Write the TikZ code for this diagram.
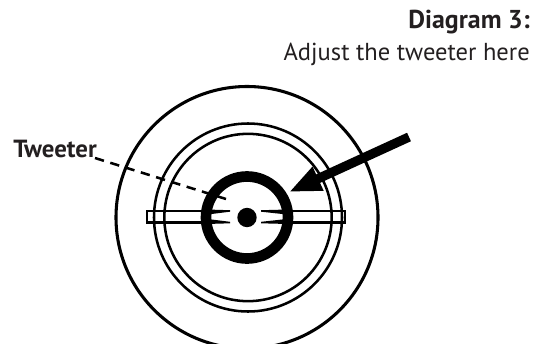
\documentclass[tikz,border=0pt]{standalone}
\usepackage{fontspec}
\setmainfont{PT Sans}
\usetikzlibrary{positioning, arrows.meta}
\definecolor{inkdark}{HTML}{231F20}

\begin{document}
\begin{tikzpicture}[
  x=0.75pt, y=-0.75pt,
  ring/.style={draw=black, line width=2.3pt},
  thinring/.style={draw=black, line width=1.9pt},
  barline/.style={draw=black, line width=1.7pt},
  notch/.style={fill=black, draw=none},
  label/.style={font=\fontsize{18.4}{21}\selectfont, text=inkdark, inner sep=0pt},
  leader/.style={draw=black, line width=1.9pt, dash pattern=on 7pt off 5pt},
  pointer/.style={draw=black, line width=7pt,
                  -{Triangle[length=24pt, width=18pt]}},
]
\useasboundingbox (0,0) rectangle (538,343);

% ------------------- tweeter body -------------------
\coordinate (hub) at (247,217.5);

% Mounting bar behind the thick ring
\draw[barline] (147,211) rectangle (345,222.5);
\fill[white] (hub) circle (41);

% Rings, outer to inner
\node[ring, circle, inner sep=0pt, minimum size=196.5pt] (outerring) at (hub) {};
\node[thinring, circle, inner sep=0pt, minimum size=141pt] (midring) at (248,217.5) {};
\node[thinring, circle, inner sep=0pt, minimum size=125.5pt] (innerring) at (248,217.5) {};
\node[circle, draw=black, line width=8pt, inner sep=0pt, minimum size=61.5pt] (thickring) at (hub) {};
\node[circle, fill=black, inner sep=0pt, minimum size=14.5pt] (centerdot) at (hub) {};

% Tapered ends of the bar inside the ring
\fill[notch] (230,210.2) -- (230,211.7) -- (210,214.2) -- (210,209.6) -- cycle;
\fill[notch] (230,223.3) -- (230,221.8) -- (210,219.3) -- (210,223.9) -- cycle;
\fill[notch] (261,210.2) -- (261,211.7) -- (284,214.2) -- (284,209.6) -- cycle;
\fill[notch] (261,223.3) -- (261,221.8) -- (284,219.3) -- (284,223.9) -- cycle;

% ------------------- labels -------------------
\node[label, anchor=base east, font=\fontsize{19.4}{21}\selectfont\bfseries] (title) at (530,28) {Diagram 3:};
\node[label, anchor=base east] (subtitle) at (530,60) {Adjust the tweeter here};
\node[label, anchor=base west, font=\fontsize{18.6}{21}\selectfont\bfseries] (tweeter) at (13,157) {Tweeter};

% ------------------- leader and arrow -------------------
\coordinate (leaderstart) at (95,158);
\coordinate (leaderend) at (226,199);
\draw[leader] (leaderstart) -- (leaderend);

\coordinate (arrowstart) at (409,137);
\coordinate (arrowtip) at (289,192);
\draw[pointer] (arrowstart) -- (arrowtip);

\end{tikzpicture}
\end{document}
